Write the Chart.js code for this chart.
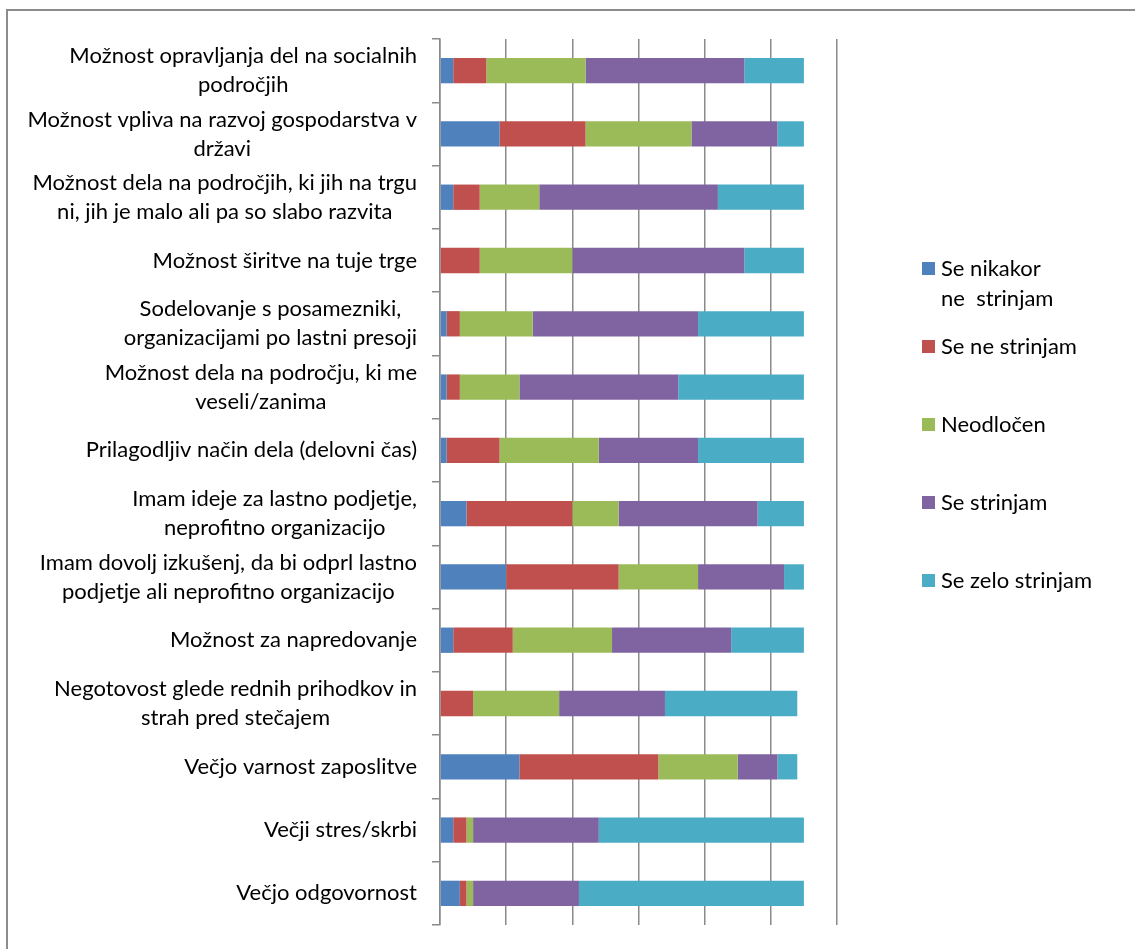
<!DOCTYPE html>
<html>
<head>
<meta charset="utf-8">
<script src="https://cdn.jsdelivr.net/npm/chart.js@4.4.0/dist/chart.umd.min.js"></script>
<style>
  body { margin: 0; background: #fff; }
  #frame { position: absolute; left: 6px; top: 9px; width: 1300px; height: 1100px; border: 2px solid #8c8c8c; }
  #wrap { position: absolute; left: 0; top: 0; width: 1135px; height: 949px; }
  .leg { position: absolute; left: 922px; font: 22px Lato, sans-serif; color: #000; line-height: 30px; white-space: pre; }
  .leg i { position: absolute; left: 0; top: 9px; width: 13px; height: 13px; }
  .leg span { display: block; margin-left: 19px; }
</style>
</head>
<body>
<div id="frame"></div>
<div id="wrap"><canvas id="chart" width="1135" height="949"></canvas></div>
<div id="legend"></div>
<script>
const categories = [
  ['Možnost opravljanja del na socialnih', 'področjih'],
  ['Možnost vpliva na razvoj gospodarstva v', 'državi'],
  ['Možnost dela na področjih, ki jih na trgu', 'ni, jih je malo ali pa so slabo razvita'],
  ['Možnost širitve na tuje trge'],
  ['Sodelovanje s posamezniki,', 'organizacijami po lastni presoji'],
  ['Možnost dela na področju, ki me', 'veseli/zanima'],
  ['Prilagodljiv način dela (delovni čas)'],
  ['Imam ideje za lastno podjetje,', 'neprofitno organizacijo'],
  ['Imam dovolj izkušenj, da bi odprl lastno', 'podjetje ali neprofitno organizacijo'],
  ['Možnost za napredovanje'],
  ['Negotovost glede rednih prihodkov in', 'strah pred stečajem'],
  ['Večjo varnost zaposlitve'],
  ['Večji stres/skrbi'],
  ['Večjo odgovornost']
];

const seriesNames = [
  ['Se nikakor', 'ne  strinjam'],
  ['Se ne strinjam'],
  ['Neodločen'],
  ['Se strinjam'],
  ['Se zelo strinjam']
];
const seriesColors = ['#4F81BD', '#C0504D', '#9BBB59', '#8064A2', '#4BACC6'];

const seNikakor = [2, 9, 2, 0, 1, 1, 1, 4, 10, 2, 0, 12, 2, 3];
const seNe      = [5, 13, 4, 6, 2, 2, 8, 16, 17, 9, 5, 21, 2, 1];
const neodlocen = [15, 16, 9, 14, 11, 9, 15, 7, 12, 15, 13, 12, 1, 1];
const seStrinjam = [24, 13, 27, 26, 25, 24, 15, 21, 13, 18, 16, 6, 19, 16];
const seZelo    = [9, 4, 13, 9, 16, 19, 16, 7, 3, 11, 20, 3, 31, 34];
const seriesValues = [seNikakor, seNe, neodlocen, seStrinjam, seZelo];

const xMax = 60;
const xStep = 10;

const FONT = '22px Lato, sans-serif';
const GRID = '#8a8a8a';

// category labels: block right aligned to the axis, lines centred in the block
const labelPlugin = {
  id: 'catLabels',
  afterDraw(chart) {
    const ctx = chart.ctx;
    const y = chart.scales.y;
    const right = y.right - 23;
    ctx.save();
    ctx.font = FONT;
    ctx.fillStyle = '#000';
    ctx.textAlign = 'center';
    ctx.textBaseline = 'middle';
    categories.forEach((lines, i) => {
      const cy = y.getPixelForValue(i);
      const w = Math.max(...lines.map(l => ctx.measureText(l).width));
      const cx = right - w / 2;
      lines.forEach((l, j) => {
        ctx.fillText(l, cx, cy + (j - (lines.length - 1) / 2) * 29);
      });
    });
    ctx.restore();
  }
};

function buildLegend() {
  const el = document.getElementById('legend');
  seriesNames.forEach((lines, i) => {
    const d = document.createElement('div');
    d.className = 'leg';
    d.style.top = (253 + i * 78) + 'px';
    d.innerHTML = '<i style="background:' + seriesColors[i] + '"></i><span>' + lines.join('\n') + '</span>';
    el.appendChild(d);
  });
}

function draw() {
  new Chart(document.getElementById('chart'), {
    type: 'bar',
    data: {
      labels: categories.map(c => c.join(' ')),
      datasets: seriesValues.map((vals, i) => ({
        label: seriesNames[i].join(' '),
        data: vals,
        backgroundColor: seriesColors[i],
        borderWidth: 0,
        barPercentage: 0.8,
        categoryPercentage: 0.5
      }))
    },
    options: {
      indexAxis: 'y',
      responsive: false,
      animation: false,
      layout: { padding: { top: 39, bottom: 24, left: 0, right: 298 } },
      plugins: { legend: { display: false }, tooltip: { enabled: false } },
      scales: {
        x: {
          stacked: true,
          min: 0,
          max: xMax,
          ticks: { display: false, stepSize: xStep },
          grid: { color: GRID, lineWidth: 1.5, drawTicks: false },
          border: { display: false }
        },
        y: {
          stacked: true,
          ticks: { display: false },
          grid: { drawOnChartArea: false, drawTicks: true, tickLength: 8, color: GRID, lineWidth: 1.5, offset: true },
          border: { display: true, color: GRID, width: 1.5 },
          afterFit(scale) { scale.width = 440; }
        }
      }
    },
    plugins: [labelPlugin]
  });
  buildLegend();
}

document.fonts.load(FONT).then(draw, draw);
</script>
</body>
</html>
